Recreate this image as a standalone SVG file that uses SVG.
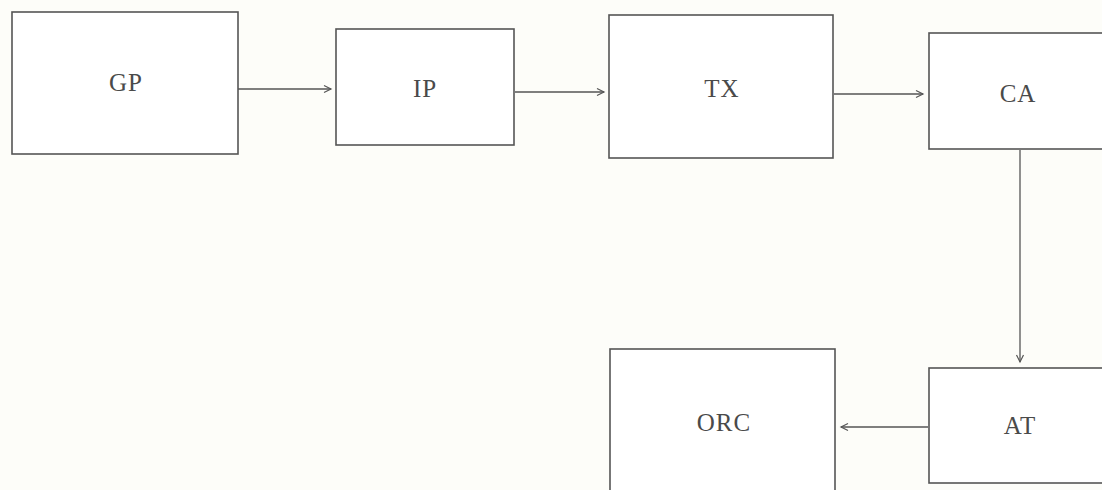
<svg xmlns="http://www.w3.org/2000/svg" width="1102" height="490" viewBox="0 0 1102 490">
<defs>
<marker id="arr" markerWidth="10" markerHeight="10" refX="8" refY="5" orient="auto" markerUnits="userSpaceOnUse">
<path d="M1,1.5 L8,5 L1,8.5" fill="none" stroke="#555" stroke-width="1.2"/>
</marker>
</defs>
<style>
.box{fill:#fff;stroke:#555;stroke-width:1.6}
.lbl{font-family:"Liberation Serif","Times New Roman",serif;font-size:25px;fill:#4a4a4a;text-anchor:middle;letter-spacing:1px}
.edge{stroke:#555;stroke-width:1.3;fill:none;marker-end:url(#arr)}
</style>
<rect width="1102" height="490" fill="#fdfdf9"/>
<g id="GP"><rect class="box" x="12" y="12" width="226" height="142"/><text class="lbl" x="126" y="91">GP</text></g>
<g id="IP"><rect class="box" x="336" y="29" width="178" height="116"/><text class="lbl" x="425" y="97">IP</text></g>
<g id="TX"><rect class="box" x="609" y="15" width="224" height="143"/><text class="lbl" x="722" y="97">TX</text></g>
<g id="CA"><rect class="box" x="929" y="33" width="180" height="116"/><text class="lbl" x="1018" y="102">CA</text></g>
<g id="AT"><rect class="box" x="929" y="368" width="180" height="115"/><text class="lbl" x="1020" y="434">AT</text></g>
<g id="ORC"><rect class="box" x="610" y="349" width="225" height="150"/><text class="lbl" x="724" y="431">ORC</text></g>
<g id="connectors">
<line class="edge" x1="238" y1="89" x2="331" y2="89"/>
<line class="edge" x1="515" y1="92" x2="604" y2="92"/>
<line class="edge" x1="834" y1="94" x2="923" y2="94"/>
<line class="edge" x1="1020" y1="150" x2="1020" y2="362"/>
<line class="edge" x1="928" y1="427" x2="841" y2="427"/>
</g>
</svg>
